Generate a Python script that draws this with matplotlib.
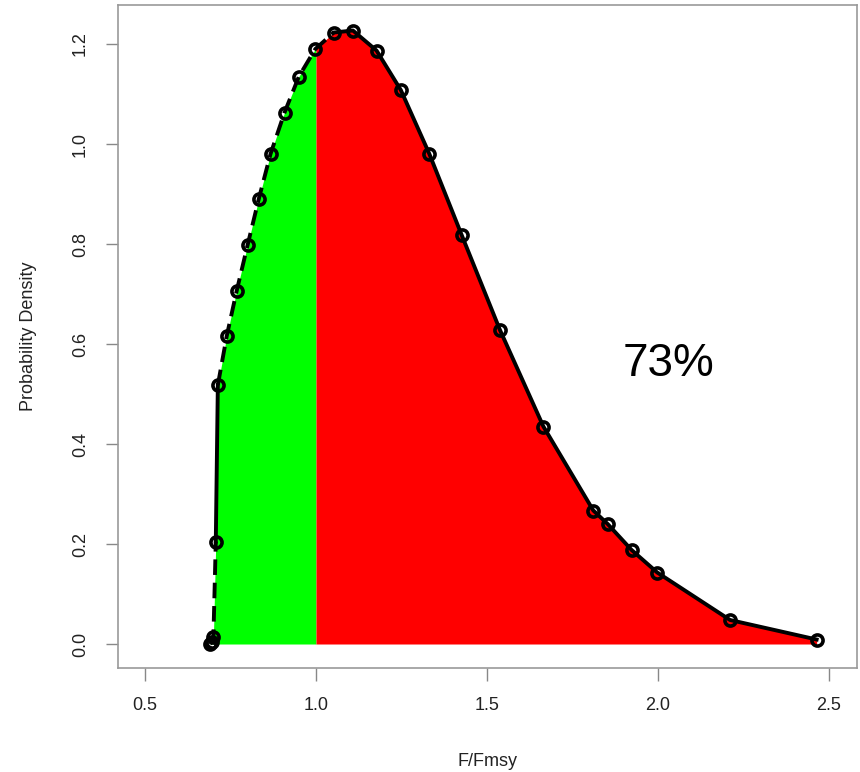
import numpy as np
import matplotlib
matplotlib.use("Agg")
import matplotlib.pyplot as plt

# density curve points (F/Fmsy, density)
f_ratio = [0.690, 0.695, 0.700, 0.707, 0.713, 0.739, 0.768, 0.800, 0.833, 0.867,
           0.908, 0.950, 0.998, 1.052, 1.108, 1.177, 1.248, 1.331, 1.426, 1.538,
           1.665, 1.811, 1.853, 1.923, 1.998, 2.211, 2.464]
density = [0.000, 0.004, 0.014, 0.205, 0.518, 0.616, 0.706, 0.798, 0.891, 0.980,
           1.063, 1.135, 1.190, 1.223, 1.227, 1.187, 1.108, 0.981, 0.818, 0.628,
           0.435, 0.267, 0.240, 0.188, 0.143, 0.048, 0.009]
split = 1.0
pct_label = "73%"

x = np.array(f_ratio)
y = np.array(density)
y_split = np.interp(split, x, y)

plt.rcParams['font.family'] = ['Liberation Sans', 'DejaVu Sans']

fig = plt.figure(figsize=(8.6, 7.72), dpi=100)
ax = fig.add_axes([0.1372, 0.1347, 0.8593, 0.8588])

# shaded areas either side of F/Fmsy = 1
left = x < split
xg = np.append(x[left], split)
yg = np.append(y[left], y_split)
ax.fill_between(xg, 0, yg, color='#00ff00', linewidth=0)
right = x > split
xr = np.insert(x[right], 0, split)
yr = np.insert(y[right], 0, y_split)
ax.fill_between(xr, 0, yr, color='#ff0000', linewidth=0)

# curve: dashed on the rising limb, solid elsewhere
ax.plot(x[:4], y[:4], color='black', lw=2.8, ls=(0, (4, 2)))
ax.plot(x[3:5], y[3:5], color='black', lw=2.8)
ax.plot(x[4:14], y[4:14], color='black', lw=2.8, ls=(0, (4, 2)))
ax.plot(x[13:], y[13:], color='black', lw=2.8)
ax.plot(x, y, ls='none', marker='o', ms=8, mfc='none', mec='black', mew=2.6)

ax.text(2.03, 0.56, pct_label, fontsize=33, ha='center', va='center')

ax.set_xlim(0.421, 2.582)
ax.set_ylim(-0.048, 1.278)
ax.set_xticks([0.5, 1.0, 1.5, 2.0, 2.5])
ax.set_yticks([0.0, 0.2, 0.4, 0.6, 0.8, 1.0, 1.2])
ax.set_xticklabels(['0.5', '1.0', '1.5', '2.0', '2.5'])
ax.set_yticklabels(['0.0', '0.2', '0.4', '0.6', '0.8', '1.0', '1.2'],
                   rotation=90, va='center')
ax.tick_params(length=9, width=1, color='#888888', labelsize=13,
               labelcolor='#222222', pad=12)
for s in ax.spines.values():
    s.set_color('#999999')
    s.set_linewidth(1.2)

ax.set_xlabel('F/Fmsy', fontsize=13, color='#222222', labelpad=28)
ax.set_ylabel('Probability Density', fontsize=13, color='#222222', labelpad=25)

fig.savefig('out.png', dpi=100)
